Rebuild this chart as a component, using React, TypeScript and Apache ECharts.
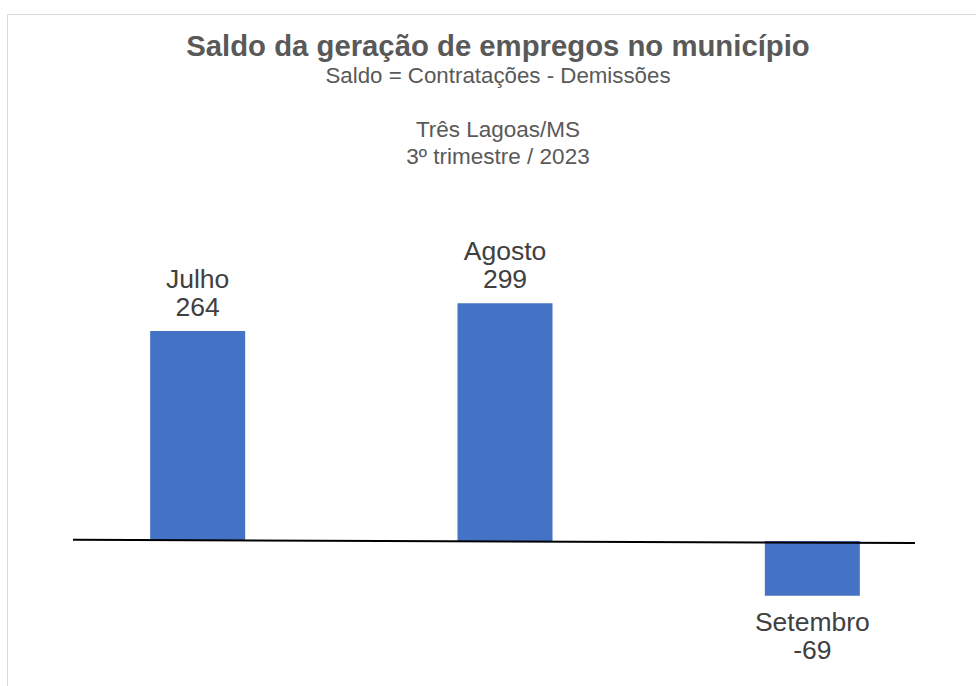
import React, { useEffect, useRef } from "react";
import * as echarts from "echarts";

const categories = ["Julho", "Agosto", "Setembro"];
const saldo = [264, 299, -69];
const titleText = "Saldo da geração de empregos no município";
const subtitleText = "Saldo = Contratações - Demissões";
const placeText = "Três Lagoas/MS\n3º trimestre / 2023";

export default function App() {
  const ref = useRef<HTMLDivElement>(null);
  useEffect(() => {
    document.body.style.margin = "0";
    const chart = echarts.init(ref.current!, null, { renderer: "svg" });
    const font = "'Liberation Sans', Arial, sans-serif";
    chart.setOption({
      animation: false,
      backgroundColor: "#ffffff",
      title: [
        {
          text: titleText,
          subtext: subtitleText,
          left: 493,
          textAlign: "center",
          top: 26,
          itemGap: 3,
          textStyle: { fontFamily: font, fontSize: 29.3, lineHeight: 28, fontWeight: "bold", color: "#595959" },
          subtextStyle: { fontFamily: font, fontSize: 22.3, lineHeight: 24, color: "#595959" },
        },
        {
          text: placeText,
          left: 493,
          textAlign: "center",
          top: 111,
          textStyle: { fontFamily: font, fontSize: 22.5, fontWeight: "normal", color: "#595959", lineHeight: 27 },
        },
      ],
      grid: { left: 44, width: 922, top: 223, height: 397.5 },
      xAxis: {
        type: "category",
        data: categories,
        axisLine: { show: false },
        axisTick: { show: false },
        axisLabel: { show: false },
      },
      yAxis: {
        type: "value",
        min: -100,
        max: 400,
        show: false,
        splitLine: { show: false },
      },
      series: [
        {
          type: "bar",
          data: saldo.map((v) => ({
            value: v,
            label: { position: v < 0 ? "bottom" : "top", distance: v < 0 ? 12 : 10 },
          })),
          barWidth: 95,
          itemStyle: { color: "#4472C4" },
          label: {
            show: true,
            formatter: "{b}\n{c}",
            fontFamily: font,
            fontSize: 26.5,
            lineHeight: 28,
            color: "#404040",
          },
        },
      ],
    });
    const y0 = chart.convertToPixel({ yAxisIndex: 0 }, 0) as number;
    chart.setOption({
      graphic: [
        {
          type: "rect",
          shape: { x: 7.5, y: 14.5, width: 1000, height: 700 },
          style: { fill: "none", stroke: "#d9d9d9", lineWidth: 1 },
          silent: true,
        },
        {
          type: "line",
          shape: { x1: 73, y1: y0 - 1.2, x2: 915, y2: y0 + 2 },
          style: { stroke: "#000000", lineWidth: 2 },
          z: 10,
        },
      ],
    });
    return () => chart.dispose();
  }, []);
  return <div ref={ref} style={{ width: 976, height: 686 }} />;
}
